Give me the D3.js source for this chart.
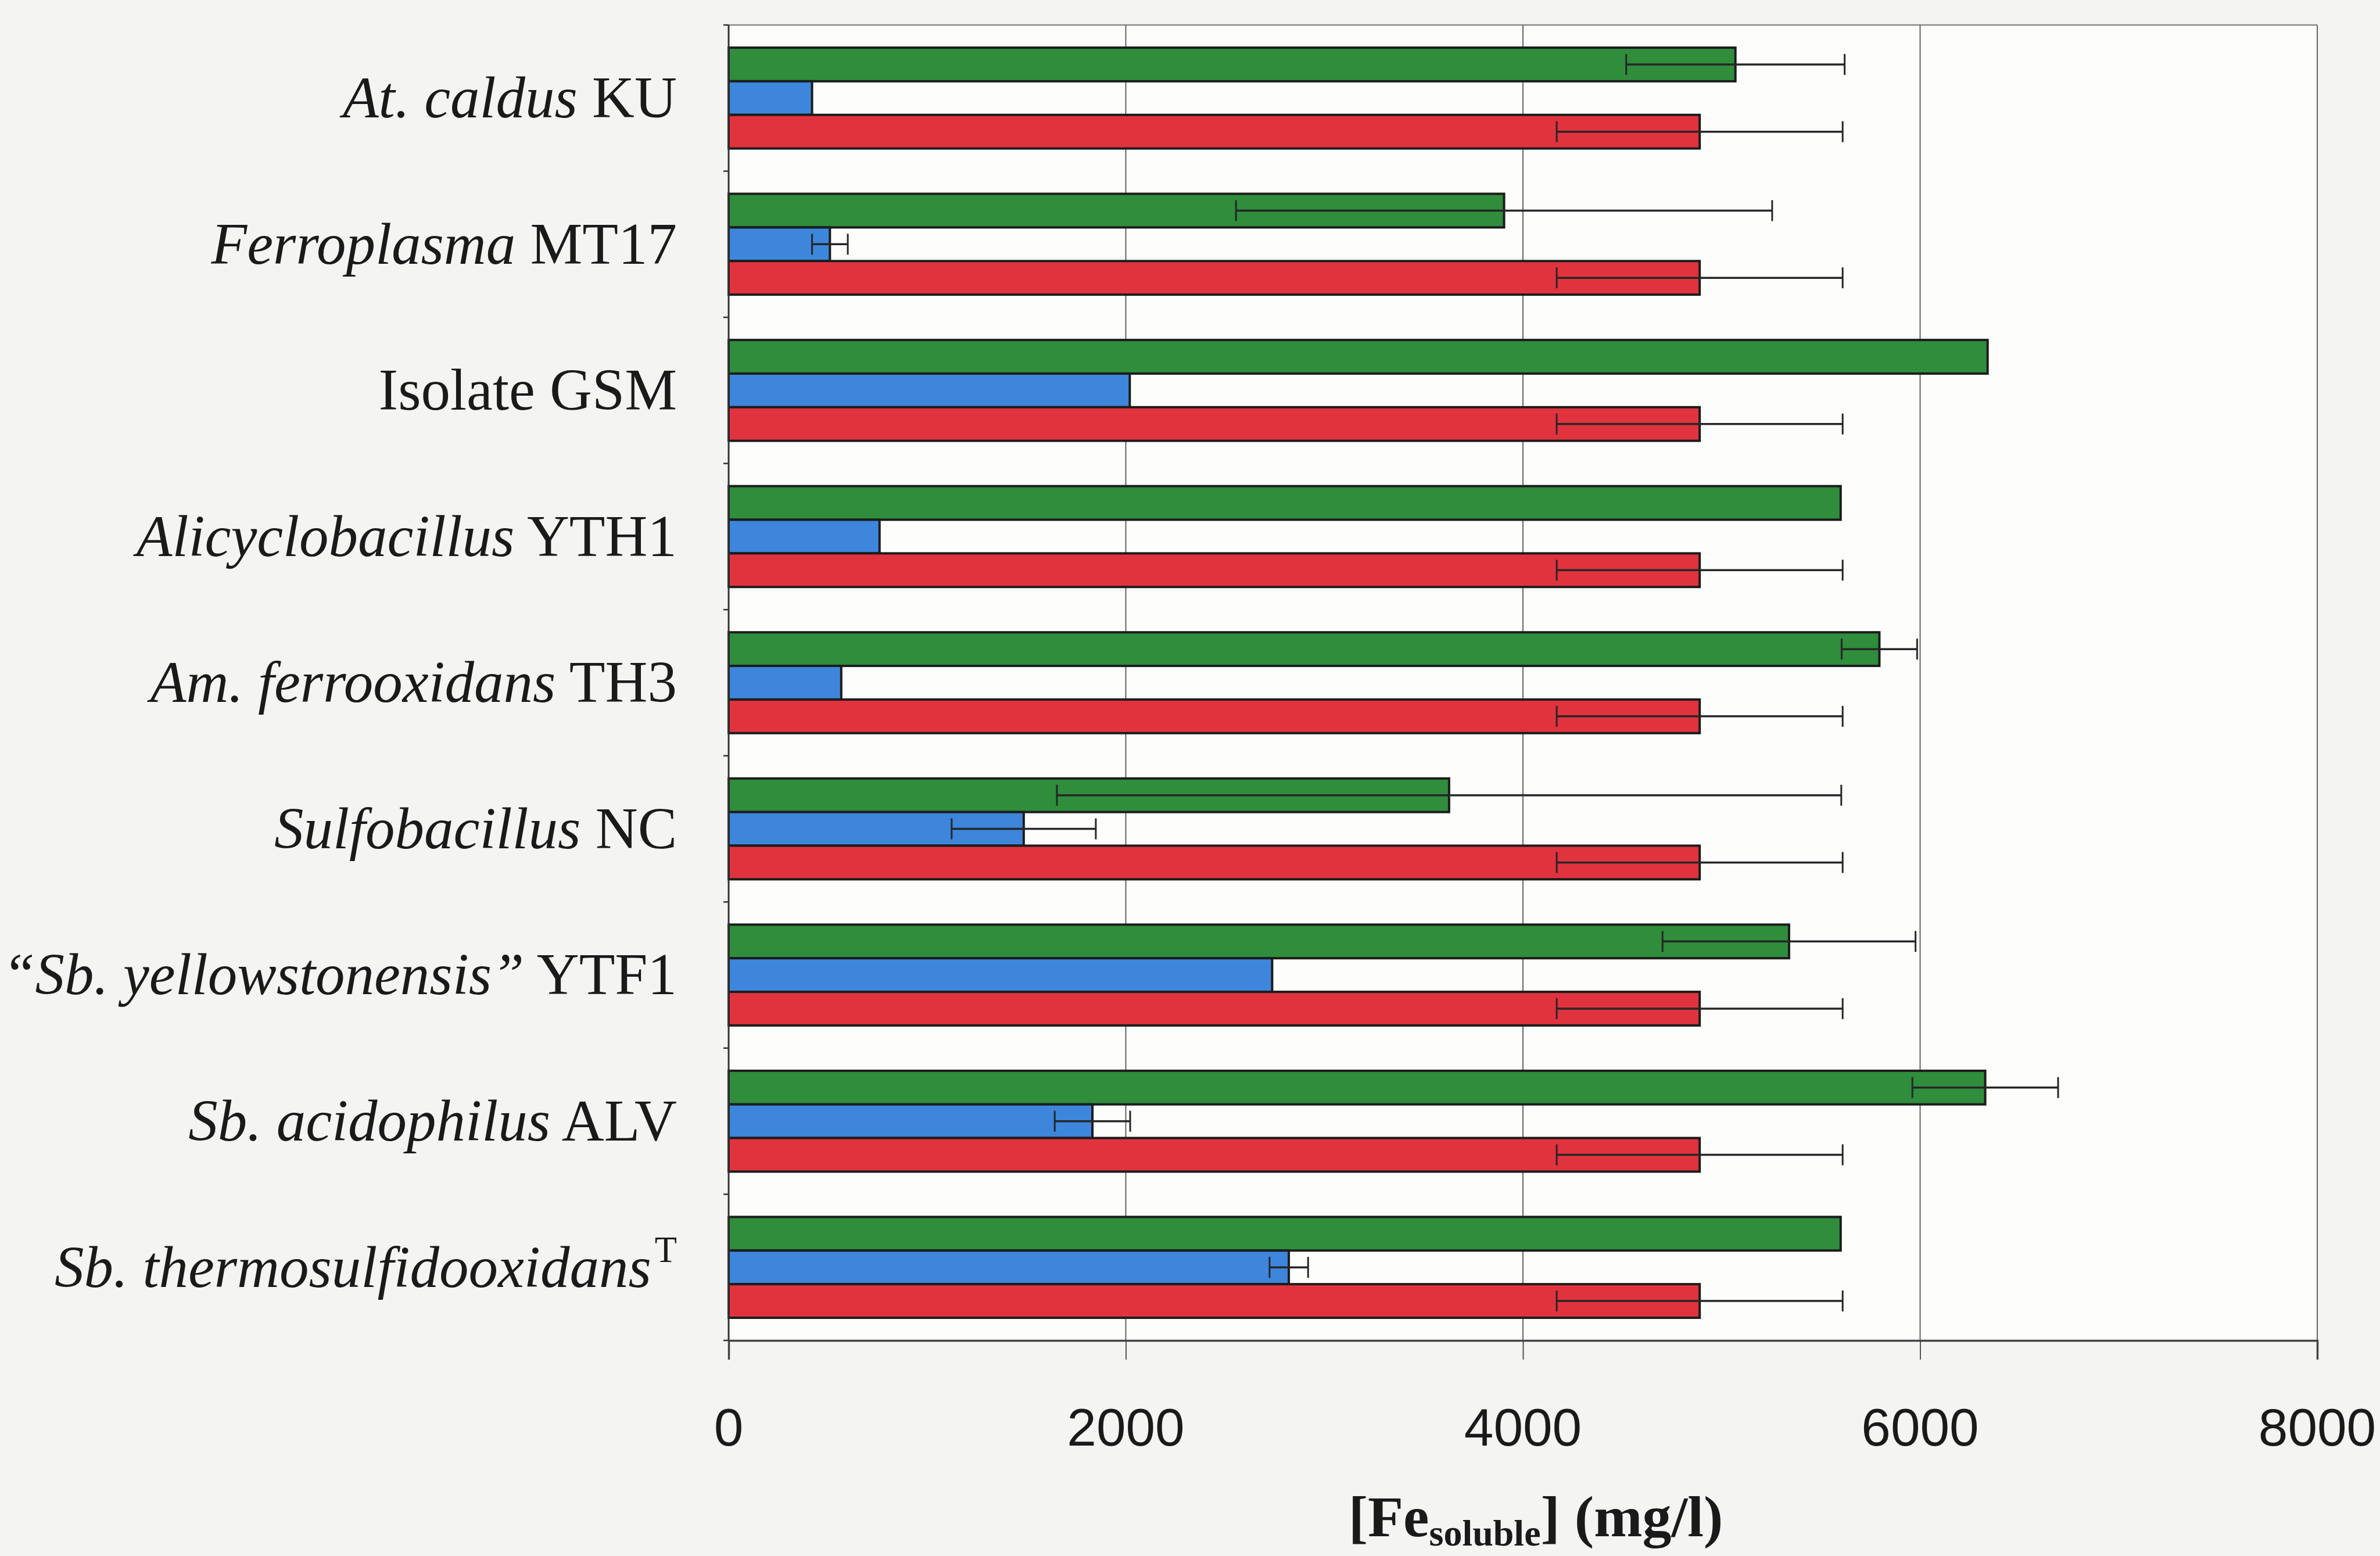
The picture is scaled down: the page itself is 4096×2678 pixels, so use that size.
<!DOCTYPE html>
<html>
<head>
<meta charset="utf-8">
<script src="https://cdn.jsdelivr.net/npm/d3@7"></script>
<style>
  html, body { margin: 0; padding: 0; background: #f4f4f2; }
  svg { display: block; }
  text { white-space: pre; }
</style>
</head>
<body>
<script>
// Strain names: italic species part, roman strain part, optional superscript
const speciesNames = ["At. caldus", "Ferroplasma", "", "Alicyclobacillus", "Am. ferrooxidans",
  "Sulfobacillus", "\u201CSb. yellowstonensis\u201D", "Sb. acidophilus", "Sb. thermosulfidooxidans"];
const strainNames = ["KU", "MT17", "Isolate GSM", "YTH1", "TH3", "NC", "YTF1", "ALV", ""];
const superscripts = ["", "", "", "", "", "", "", "", "T"];
const categories = speciesNames.map((d, i) => "c" + i);

// Soluble iron (mg/l) per strain, three series, with error half-widths
const greenValues = [5070, 3905, 6340, 5600, 5795, 3628, 5340, 6328, 5600];
const greenErrors = [550, 1350, 0, 0, 190, 1975, 637, 367, 0];
const blueValues  = [420, 510, 2020, 760, 567, 1486, 2737, 1832, 2821];
const blueErrors  = [0, 90, 0, 0, 0, 363, 0, 190, 97];
const redValues   = [4890, 4890, 4890, 4890, 4890, 4890, 4890, 4890, 4890];
const redErrors   = [720, 720, 720, 720, 720, 720, 720, 720, 720];

const xTicks = [0, 2000, 4000, 6000, 8000];
const seriesKeys = ["green", "blue", "red"];
const seriesColors = { green: "#2f8d3c", blue: "#3d86dc", red: "#e1333e" };
const seriesData = {
  green: { values: greenValues, errors: greenErrors },
  blue:  { values: blueValues,  errors: blueErrors },
  red:   { values: redValues,   errors: redErrors }
};

const W = 4096, H = 2678;
const plot = { left: 1254, right: 3988, top: 43, bottom: 2307 };

const svg = d3.select("body").append("svg").attr("width", W).attr("height", H);

const x = d3.scaleLinear().domain([0, 8000]).range([plot.left, plot.right]);
const y = d3.scaleBand().domain(categories).range([plot.top, plot.bottom])
  .paddingInner(0.31).paddingOuter(0.155);
const ySub = d3.scaleBand().domain(seriesKeys).range([0, y.bandwidth()]);

// Plot background
svg.append("rect")
  .attr("x", plot.left).attr("y", plot.top)
  .attr("width", plot.right - plot.left).attr("height", plot.bottom - plot.top)
  .attr("fill", "#fdfdfc");

// Top frame line
svg.append("line")
  .attr("x1", plot.left).attr("x2", plot.right)
  .attr("y1", plot.top).attr("y2", plot.top)
  .attr("stroke", "#8a8a8a").attr("stroke-width", 2.5);

// Vertical gridlines
svg.append("g").selectAll("line").data(xTicks.slice(1)).join("line")
  .attr("x1", d => x(d)).attr("x2", d => x(d))
  .attr("y1", plot.top).attr("y2", plot.bottom)
  .attr("stroke", "#555").attr("stroke-width", 1.8);

// Bars
const groups = svg.append("g").selectAll("g").data(categories).join("g")
  .attr("transform", d => `translate(0,${y(d)})`);

seriesKeys.forEach(key => {
  groups.append("rect")
    .attr("x", x(0))
    .attr("y", ySub(key))
    .attr("width", (d, i) => x(seriesData[key].values[i]) - x(0))
    .attr("height", ySub.bandwidth())
    .attr("fill", seriesColors[key])
    .attr("stroke", "#1c1c1c")
    .attr("stroke-width", 4);
});

// Error bars
const capH = 36;
seriesKeys.forEach(key => {
  groups.each(function (d, i) {
    const v = seriesData[key].values[i], e = seriesData[key].errors[i];
    if (!e) return;
    const g = d3.select(this);
    const cy = ySub(key) + ySub.bandwidth() / 2;
    g.append("line")
      .attr("x1", x(v - e)).attr("x2", x(v + e))
      .attr("y1", cy).attr("y2", cy)
      .attr("stroke", "#262626").attr("stroke-width", 3.5);
    [v - e, v + e].forEach(xv => {
      g.append("line")
        .attr("x1", x(xv)).attr("x2", x(xv))
        .attr("y1", cy - capH / 2).attr("y2", cy + capH / 2)
        .attr("stroke", "#262626").attr("stroke-width", 3);
    });
  });
});

// X axis
const xAxis = d3.axisBottom(x).tickValues(xTicks).tickSize(33).tickPadding(0).tickFormat(d3.format("d"));
const xg = svg.append("g").attr("transform", `translate(0,${plot.bottom})`).call(xAxis);
xg.select(".domain").attr("stroke", "#444").attr("stroke-width", 3.5);
xg.selectAll(".tick line").attr("stroke", "#444").attr("stroke-width", 1.8);
xg.selectAll(".tick text").remove();

svg.append("g").selectAll("text").data(xTicks).join("text")
  .attr("x", d => x(d)).attr("y", 2488)
  .attr("text-anchor", "middle")
  .attr("font-family", "'Liberation Sans', Arial, sans-serif")
  .attr("font-size", 91)
  .attr("fill", "#1a1a1a")
  .text(d => d);

// Y axis with short ticks between categories
const yAxisLine = svg.append("g");
yAxisLine.append("line")
  .attr("x1", plot.left).attr("x2", plot.left)
  .attr("y1", plot.top).attr("y2", plot.bottom)
  .attr("stroke", "#333").attr("stroke-width", 3);
const boundaries = d3.range(categories.length + 1).map(i => plot.top + i * y.step());
yAxisLine.selectAll("line.tk").data(boundaries).join("line")
  .attr("class", "tk")
  .attr("x1", plot.left - 9).attr("x2", plot.left)
  .attr("y1", d => d).attr("y2", d => d)
  .attr("stroke", "#333").attr("stroke-width", 2.5);

// Category labels
const labelFont = 101;
const labels = svg.append("g").selectAll("text").data(categories).join("text")
  .attr("x", 1165)
  .attr("y", d => y(d) + y.bandwidth() / 2 + labelFont * 0.33)
  .attr("text-anchor", "end")
  .attr("font-family", "'Liberation Serif', 'Times New Roman', serif")
  .attr("font-size", labelFont)
  .attr("fill", "#1a1a1a");

labels.each(function (d, i) {
  const t = d3.select(this);
  if (speciesNames[i]) t.append("tspan").attr("font-style", "italic").text(speciesNames[i]);
  if (strainNames[i]) t.append("tspan").text((speciesNames[i] ? " " : "") + strainNames[i]);
  if (superscripts[i]) t.append("tspan").attr("font-size", labelFont * 0.62)
    .attr("dx", 6).attr("dy", -labelFont * 0.42).text(superscripts[i]);
});

// Axis title
const title = svg.append("text")
  .attr("x", 2643).attr("y", 2644)
  .attr("text-anchor", "middle")
  .attr("font-family", "'Liberation Serif', 'Times New Roman', serif")
  .attr("font-weight", "bold")
  .attr("font-size", 100)
  .attr("fill", "#1a1a1a");
title.append("tspan").text("[Fe");
title.append("tspan").attr("font-size", 64).attr("dy", 16).text("soluble");
title.append("tspan").attr("dy", -16).text("] (mg/l)");
</script>
</body>
</html>
